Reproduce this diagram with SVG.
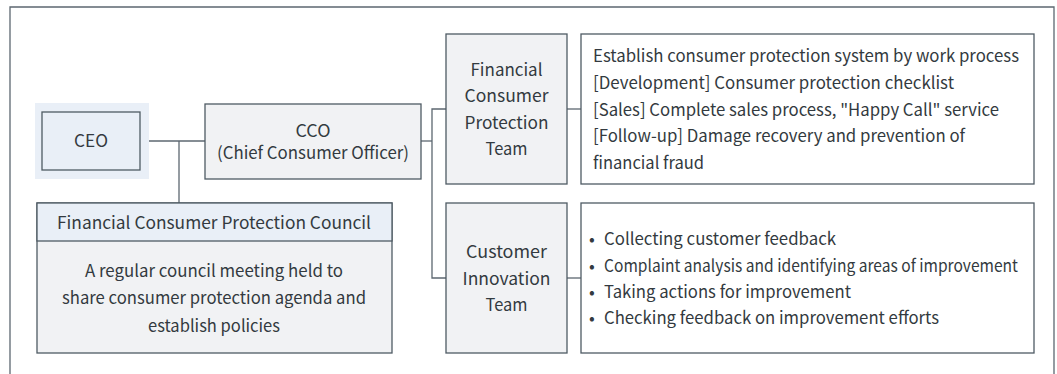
<svg xmlns="http://www.w3.org/2000/svg" width="1057" height="374" viewBox="0 0 1057 374">
<style>
text{font-family:"Noto Sans CJK KR","Noto Sans",sans-serif;font-size:17px;fill:#333a40}
.c{text-anchor:middle}
.box{stroke:#4f5b64;stroke-width:1.3}
.gray{fill:#f1f2f4}
.blue{fill:#e9eff7}
.white{fill:#ffffff}
.ln{fill:none;stroke:#5c6770;stroke-width:1.3}
</style>
<rect width="1057" height="374" fill="#ffffff"/>
<path d="M10,374 V7 H1054 V374" fill="none" stroke="#5c6770" stroke-width="1.3"/>
<g id="connectors">
<path class="ln" d="M149,141 H205"/>
<path class="ln" d="M179,141 V203"/>
<path class="ln" d="M421,141 H432"/>
<path class="ln" d="M446,109 H432 V278 H446"/>
<path class="ln" d="M567,109 H581"/>
<path class="ln" d="M567,278 H581"/>
</g>
<g id="ceo">
<rect x="35" y="103" width="114" height="76" class="blue"/>
<rect x="42" y="112" width="98" height="58" class="box blue"/>
<text x="91" y="147" class="c" textLength="34" lengthAdjust="spacingAndGlyphs">CEO</text>
</g>
<g id="cco">
<rect x="205" y="104" width="216" height="75" class="box gray"/>
<text x="313" y="137" class="c" textLength="35" lengthAdjust="spacingAndGlyphs">CCO</text>
<text x="313" y="159" class="c" textLength="192" lengthAdjust="spacingAndGlyphs">(Chief Consumer Officer)</text>
</g>
<g id="council">
<rect x="37" y="203" width="355" height="150" class="box gray"/>
<rect x="37" y="203" width="355" height="38" class="box blue"/>
<text x="214" y="229" class="c" textLength="314" lengthAdjust="spacingAndGlyphs">Financial Consumer Protection Council</text>
<text x="214" y="277" class="c" textLength="258" lengthAdjust="spacingAndGlyphs">A regular council meeting held to</text>
<text x="214" y="304" class="c" textLength="304" lengthAdjust="spacingAndGlyphs">share consumer protection agenda and</text>
<text x="214" y="332" class="c" textLength="132" lengthAdjust="spacingAndGlyphs">establish policies</text>
</g>
<g id="fcp-team">
<rect x="446" y="34" width="121" height="150" class="box gray"/>
<text x="506.5" y="76" class="c" textLength="72" lengthAdjust="spacingAndGlyphs">Financial</text>
<text x="506.5" y="102" class="c" textLength="84" lengthAdjust="spacingAndGlyphs">Consumer</text>
<text x="506.5" y="129" class="c" textLength="84" lengthAdjust="spacingAndGlyphs">Protection</text>
<text x="506.5" y="155" class="c" textLength="42" lengthAdjust="spacingAndGlyphs">Team</text>
</g>
<g id="fcp-desc">
<rect x="581" y="34" width="453" height="150" class="box white"/>
<text x="593" y="62" textLength="426" lengthAdjust="spacingAndGlyphs">Establish consumer protection system by work process</text>
<text x="593" y="89" textLength="361" lengthAdjust="spacingAndGlyphs">[Development] Consumer protection checklist</text>
<text x="593" y="116" textLength="406" lengthAdjust="spacingAndGlyphs">[Sales] Complete sales process, "Happy Call" service</text>
<text x="593" y="142" textLength="372" lengthAdjust="spacingAndGlyphs">[Follow-up] Damage recovery and prevention of</text>
<text x="593" y="169" textLength="111" lengthAdjust="spacingAndGlyphs">financial fraud</text>
</g>
<g id="ci-team">
<rect x="446" y="203" width="121" height="150" class="box gray"/>
<text x="506.5" y="258" class="c" textLength="81" lengthAdjust="spacingAndGlyphs">Customer</text>
<text x="506.5" y="285" class="c" textLength="88" lengthAdjust="spacingAndGlyphs">Innovation</text>
<text x="506.5" y="311" class="c" textLength="42" lengthAdjust="spacingAndGlyphs">Team</text>
</g>
<g id="ci-desc">
<rect x="581" y="203" width="453" height="150" class="box white"/>
<text x="589" y="245">•</text><text x="604" y="245" textLength="232" lengthAdjust="spacingAndGlyphs">Collecting customer feedback</text>
<text x="589" y="272">•</text><text x="604" y="272" textLength="414" lengthAdjust="spacingAndGlyphs">Complaint analysis and identifying areas of improvement</text>
<text x="589" y="298">•</text><text x="604" y="298" textLength="247" lengthAdjust="spacingAndGlyphs">Taking actions for improvement</text>
<text x="589" y="324">•</text><text x="604" y="324" textLength="335" lengthAdjust="spacingAndGlyphs">Checking feedback on improvement efforts</text>
</g>
</svg>
